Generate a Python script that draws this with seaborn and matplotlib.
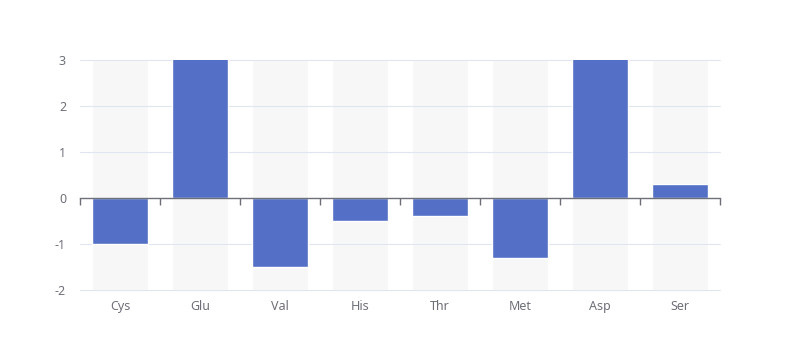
import matplotlib
matplotlib.use("Agg")
import matplotlib.pyplot as plt
import seaborn as sns
import pandas as pd
import numpy as np

categories = ['Cys', 'Glu', 'Val', 'His', 'Thr', 'Met', 'Asp', 'Ser']
values = [-1.0, 3.6, -1.5, -0.5, -0.4, -1.3, 3.8, 0.3]
y_ticks = [-2, -1, 0, 1, 2, 3]

bar_color = '#5470c6'
bg_color = '#f7f7f7'
axis_color = '#6E7079'
grid_color = '#E0E6F1'

sns.set_style('white')
plt.rcParams['font.family'] = ['Noto Sans', 'DejaVu Sans']

df = pd.DataFrame({'cat': categories, 'val': values})
ymin, ymax = y_ticks[0], y_ticks[-1]

fig = plt.figure(figsize=(8, 3.6), dpi=100)
ax = fig.add_axes([0.1, (360 - 290) / 360, 0.8, 230 / 360])

x = np.arange(len(categories))
width = 0.69
# background bars spanning the full value range
ax.bar(x, ymax - ymin, bottom=ymin, width=width, color=bg_color, zorder=0)
for yt in y_ticks:
    if yt != 0:
        ax.axhline(yt, color=grid_color, lw=0.8, zorder=0.5, clip_on=False)

sns.barplot(data=df, x='cat', y='val', color=bar_color, saturation=1,
            width=width, ax=ax, zorder=2)

ax.set_ylim(ymin, ymax)
ax.set_xlim(-0.5, len(categories) - 0.5)
ax.set_xlabel('')
ax.set_ylabel('')

for s in ['top', 'right', 'left']:
    ax.spines[s].set_visible(False)
ax.spines['bottom'].set_position(('data', 0))
ax.spines['bottom'].set_color(axis_color)
ax.spines['bottom'].set_linewidth(1)
ax.spines['bottom'].set_zorder(3)

ax.set_xticks(x)
ax.set_xticklabels([])
ax.tick_params(axis='x', which='major', length=0)
ax.set_xticks(np.arange(len(categories) + 1) - 0.5, minor=True)
ax.tick_params(axis='x', which='minor', bottom=True, length=5, width=1,
               color=axis_color, direction='out')

ax.set_yticks(y_ticks)
ax.set_yticklabels([str(v) for v in y_ticks])
ax.tick_params(axis='y', length=0, pad=10, labelsize=9, labelcolor=axis_color)

sec = ax.secondary_xaxis('bottom')
sec.set_xticks(x)
sec.set_xticklabels(categories)
sec.tick_params(length=0, pad=7, labelsize=9, labelcolor=axis_color)
sec.spines['bottom'].set_visible(False)

fig.savefig('out.png', dpi=100)
